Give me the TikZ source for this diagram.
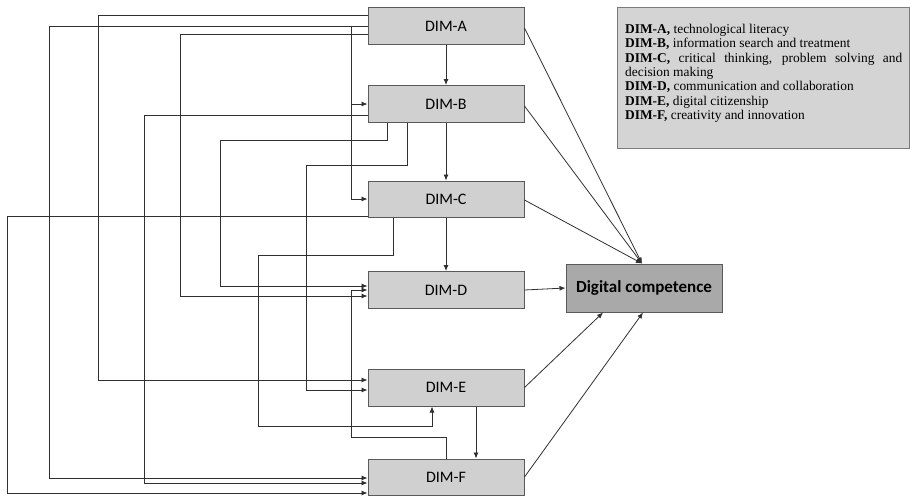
\documentclass[tikz,border=0pt]{standalone}
\usepackage{fontspec}
\setsansfont{Carlito}
\newfontfamily\legendfont{Liberation Serif}
\usetikzlibrary{arrows.meta}
\definecolor{boxfill}{HTML}{D0D0D0}
\definecolor{dcfill}{HTML}{A9A9A9}
\definecolor{legfill}{HTML}{D4D4D4}
\definecolor{edge}{HTML}{5A5A5A}
\definecolor{wire}{HTML}{303030}
\tikzset{
  dimbox/.style={draw=edge, line width=1pt, fill=boxfill, minimum width=156pt, minimum height=37pt, inner sep=0pt,
    font=\sffamily\fontsize{16}{19}\selectfont},
  dcbox/.style={draw=edge, line width=1pt, fill=dcfill, minimum width=156pt, minimum height=48pt, inner sep=0pt,
    font=\sffamily\bfseries\fontsize{17}{20}\selectfont},
  legbox/.style={draw=edge!80, line width=1pt, fill=legfill, minimum width=292pt, minimum height=141pt, inner sep=0pt},
  legtext/.style={anchor=north west, inner sep=0pt, text width=277pt, align=justify,
    font=\legendfont\fontsize{13.4}{14.3}\selectfont},
  arr/.style={draw=wire, line width=0.8pt, -{Latex[length=6pt,width=5pt]}},
  plain/.style={draw=wire, line width=0.8pt}
}
\begin{document}
\begin{tikzpicture}[x=1pt,y=-1pt]
\useasboundingbox (0,0) rectangle (910,496);
% boxes
\node[dimbox] (A) at (446,26) {DIM-A};
\node[dimbox] (B) at (446,104) {DIM-B};
\node[dimbox, minimum height=36pt] (C) at (446,199) {DIM-C};
\node[dimbox] (D) at (446,290) {DIM-D};
\node[dimbox] (E) at (446,387.5) {DIM-E};
\node[dimbox, minimum height=36pt] (F) at (446,477) {DIM-F};
\node[dcbox] (DC) at (644,288) {Digital competence};
\node[legbox] (legend) at (763,77.5) {};
\node[legtext] (legendtext) at (625,24) {%
\textbf{DIM-A,} technological literacy\\
\textbf{DIM-B,} information search and treatment\\
\textbf{DIM-C,} critical thinking, problem solving and\linebreak decision making\\
\textbf{DIM-D,} communication and collaboration\\
\textbf{DIM-E,} digital citizenship\\
\textbf{DIM-F,} creativity and innovation};
% direct vertical chain
\draw[arr] (A.south) -- (B.north);
\draw[arr] (B.south) -- (C.north);
\draw[arr] (C.south) -- (D.north);
\draw[arr] ([xshift=30pt]E.south) -- ([xshift=30pt]F.north);
% to digital competence
\coordinate (dctop) at ([xshift=-2pt]DC.north);
\draw[arr] ([yshift=-2pt]A.east) -- (dctop);
\draw[arr] ([yshift=-2pt]B.east) -- (dctop);
\draw[arr] ([yshift=-1pt]C.east) -- (dctop);
\draw[arr] (D.east) -- (DC.west);
\draw[arr] (E.east) -- ([xshift=-41pt]DC.south);
\draw[arr] (F.east) -- ([xshift=-1pt]DC.south);
% left side feedback lines
\draw[arr] ([yshift=11pt]A.west) -| (98,380) -- ([yshift=7.5pt]E.west);
\draw[arr] (A.west) -| (49,478) -- ([yshift=-1pt]F.west);
\draw[arr] ([yshift=-8pt]A.west) -| (180,296) -- ([yshift=-6pt]D.west);
\draw[arr] ([xshift=-16pt]A.west) |- (B.west);
\draw[arr] ([xshift=-16pt]A.west) |- (C.west);
\draw[arr] ([yshift=-11pt]B.west) -| (144,483) -- ([yshift=-6pt]F.west);
\draw[arr] ([xshift=-59pt]B.south) -- (387,140) -| (220,286) -- ([yshift=4pt]D.west);
\draw[arr] ([xshift=-39pt]B.south) -- (407,165) -| (306,390) -- ([yshift=-2.5pt]E.west);
\draw[arr] ([yshift=-17pt]C.west) -| (7,493) -- ([yshift=-16pt]F.west);
\draw[arr] ([xshift=-53pt]C.south) -- (393,255) -| (258,426) -| ([xshift=-14pt]E.south);
\draw[arr] (F.north) -- (446,437) -| (351,290) -- (D.west);
\end{tikzpicture}
\end{document}
